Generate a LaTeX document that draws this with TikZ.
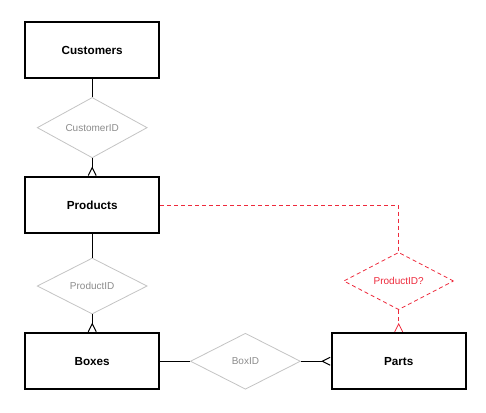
\documentclass[tikz,border=0pt]{standalone}
\usepackage{fontspec}
\setmainfont{Liberation Sans}
\usetikzlibrary{arrows.meta,positioning,shapes.geometric}
\definecolor{keygray}{HTML}{C4C4C4}
\definecolor{keytext}{HTML}{8C8C8C}
\definecolor{guessred}{HTML}{EE2A3C}
\tikzset{
  font={\fontsize{10pt}{12}\selectfont}}

\begin{document}
\begin{tikzpicture}[auto,
    block_entity/.style ={rectangle, draw=black, line width=2pt, fill=white,
      minimum width=134pt, minimum height=56pt, anchor=center,
      font={\fontsize{11.7pt}{14}\selectfont\bfseries}},
    block_key/.style ={diamond, draw=keygray, line width=0.8pt, fill=white,
      minimum width=110pt, minimum height=56pt, inner sep=0pt, anchor=center,
      text=keytext},
    block_guess/.style ={block_key, draw=guessred, dash pattern=on 4pt off 3pt,
      text=guessred},
    paths_one/.style={draw, black, line width=1pt},
    paths_many/.style={paths_one,
      arrows={-Straight Barb[reversed, length=8pt, width=8pt]}},
    paths_guess/.style={draw, guessred, line width=0.8pt,
      dash pattern=on 4pt off 3pt}]
    \useasboundingbox (0,0) rectangle (486pt,-412pt);
    % entities and keys laid out with a matrix
    \matrix [anchor=north west, inner sep=0pt, column sep=30pt, row sep=18pt] at (24pt,-21pt) {
      % row 1
      \node[block_entity] (b1) {Customers}; & & \\
      % row 2
      \node[block_key] (k1) {CustomerID}; & & \\
      % row 3
      \node[block_entity] (b2) {Products}; & & \\
      % row 4
      \node[block_key] (k2) {ProductID}; &
      &
      \node[block_guess, yshift=5pt] (k4) {ProductID?}; \\
      % row 5
      \node[block_entity] (b3) {Boxes}; &
      \node[block_key] (k3) {BoxID}; &
      \node[block_entity] (b4) {Parts}; \\
    };% end matrix
    % connecting nodes with paths
    \path[paths_one] (b1) -- (k1);
    \path[paths_many] (k1) -- (b2);
    \path[paths_one] (b2) -- (k2);
    \path[paths_many] (k2) -- (b3);
    \path[paths_one] (b3) -- (k3);
    \path[paths_many] (k3) -- (b4);
    % the open question
    \path[paths_guess] (b2.east) -| (k4.north);
    \path[paths_guess, arrows={-Straight Barb[reversed, length=8pt, width=8pt]}] (k4) -- (b4);
  \end{tikzpicture}
\end{document}
